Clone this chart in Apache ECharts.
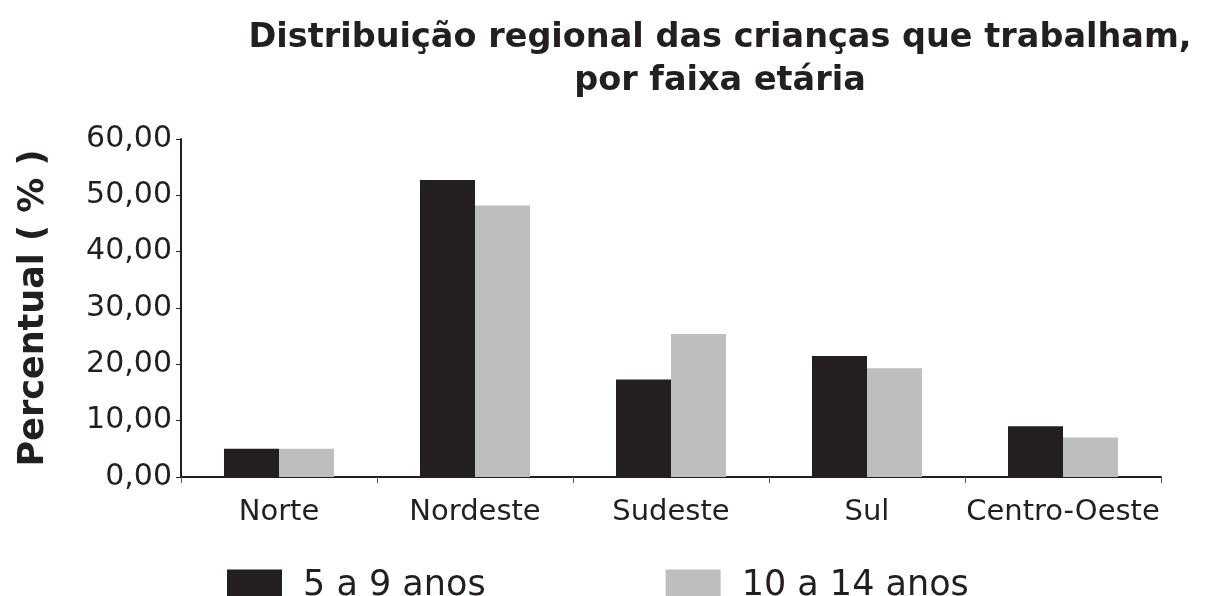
<!DOCTYPE html>
<html>
<head>
<meta charset="utf-8">
<script src="https://cdn.jsdelivr.net/npm/echarts@6/dist/echarts.min.js"></script>
<style>
	html, body { margin: 0; padding: 0; background: #fff; }
	#chart { width: 1224px; height: 596px; }
</style>
</head>
<body>
<div id="chart"></div>
<script>
	const categories = ['Norte', 'Nordeste', 'Sudeste', 'Sul', 'Centro-Oeste'];
	const seriesNames = ['5 a 9 anos', '10 a 14 anos'];
	const anos5a9 = [5.0, 52.7, 17.3, 21.5, 9.0];
	const anos10a14 = [5.0, 48.2, 25.4, 19.3, 7.0];
	const yMin = 0, yMax = 60, yStep = 10;

	const chart = echarts.init(document.getElementById('chart'));
	const font = 'DejaVu Sans';

	let option = {
		backgroundColor: '#fff',
		animation: false,
		color: ['#231f20', '#bcbec0'],
		graphic: [{
			type: 'text',
			x: 720,
			y: 17,
			style: {
				text: 'Distribuição regional das crianças que trabalham,\npor faixa etária',
				textAlign: 'center',
				fontFamily: font,
				fontWeight: 'bold',
				fontSize: 33.5,
				lineHeight: 43,
				fill: '#231f20'
			}
		}],
		legend: {
			left: 222,
			top: 563,
			itemWidth: 55,
			itemHeight: 32,
			itemGap: 180,
			icon: 'rect',
			textStyle: {
				fontFamily: font,
				fontSize: 35,
				color: '#231f20',
				padding: [0, 0, 0, 16]
			},
			data: seriesNames
		},
		grid: {
			left: 181,
			right: 63,
			top: 139,
			bottom: 119
		},
		xAxis: {
			type: 'category',
			data: categories,
			axisLine: { lineStyle: { color: '#231f20', width: 2 } },
			axisTick: { show: true, interval: 0, length: 6, lineStyle: { color: '#555' } },
			axisLabel: {
				interval: 0,
				fontFamily: font,
				fontSize: 29,
				color: '#231f20',
				margin: 21
			}
		},
		yAxis: {
			type: 'value',
			min: yMin,
			max: yMax,
			interval: yStep,
			name: 'Percentual ( % )',
			nameLocation: 'middle',
			nameRotate: 90,
			nameGap: 130,
			nameTextStyle: {
				fontFamily: font,
				fontWeight: 'bold',
				fontSize: 35,
				color: '#231f20'
			},
			splitLine: { show: false },
			axisLine: { show: true, lineStyle: { color: '#231f20', width: 2 } },
			axisTick: { show: true, length: 5, lineStyle: { color: '#231f20' } },
			axisLabel: {
				fontFamily: font,
				fontSize: 30,
				color: '#231f20',
				margin: 9,
				formatter: v => v.toFixed(2).replace('.', ',')
			}
		},
		series: [{
			name: seriesNames[0],
			type: 'bar',
			data: anos5a9,
			barWidth: 55,
			barGap: '0%'
		}, {
			name: seriesNames[1],
			type: 'bar',
			data: anos10a14,
			barWidth: 55,
			barGap: '0%'
		}]
	};
	chart.setOption(option);
</script>
</body>
</html>
